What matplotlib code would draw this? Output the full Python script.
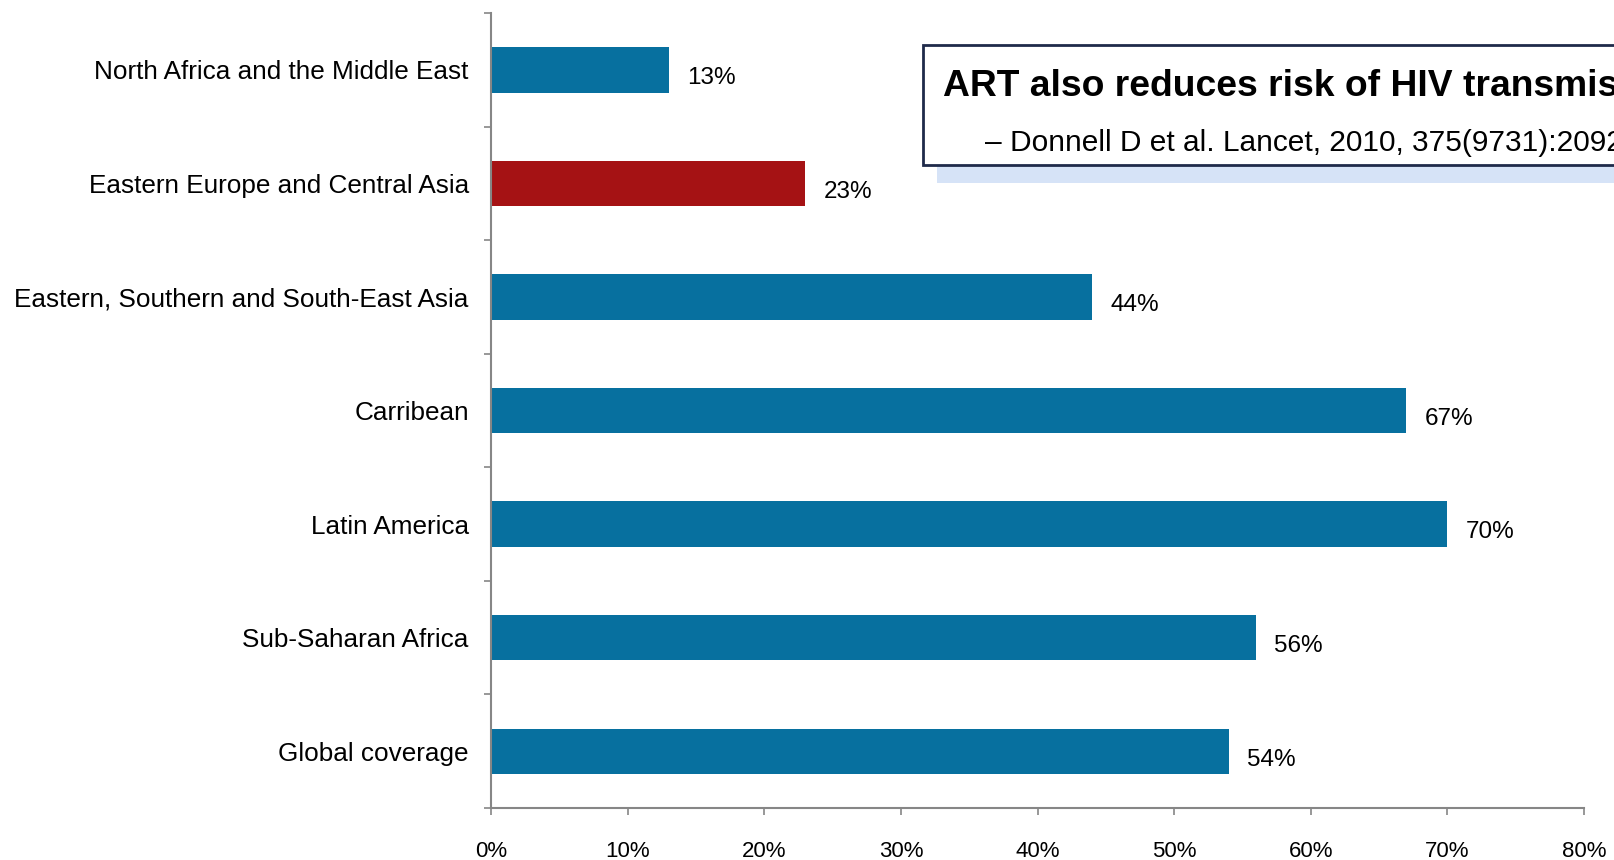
import matplotlib
matplotlib.use("Agg")
import matplotlib.pyplot as plt
from matplotlib.patches import Rectangle
import numpy as np

# data, top to bottom as in the chart
regions = ["North Africa and the Middle East",
           "Eastern Europe and Central Asia",
           "Eastern, Southern and South-East Asia",
           "Carribean",
           "Latin America",
           "Sub-Saharan Africa",
           "Global coverage"]
coverage = [13, 23, 44, 67, 70, 56, 54]
highlight = "Eastern Europe and Central Asia"
x_ticks = [0, 10, 20, 30, 40, 50, 60, 70, 80]

blue = "#07709F"
red = "#A51214"
grey = "#868686"
arial = ["Liberation Sans", "DejaVu Sans"]

W, H = 1614, 860
fig = plt.figure(figsize=(W / 100, H / 100), dpi=100)
ax = fig.add_axes([491 / W, 1 - 808 / H, (1584 - 491) / W, (808 - 13) / H])

y = np.arange(len(regions))
colors = [red if r == highlight else blue for r in regions]
ax.barh(y, coverage, height=0.4, color=colors)

ax.set_ylim(len(regions) - 0.5, -0.5)
ax.set_xlim(0, 80)

# labels on the bars
for yi, v in zip(y, coverage):
    ax.annotate(f"{v}%", xy=(v, yi), xytext=(13, -6), textcoords="offset points",
                va="center", ha="left", fontsize=17.5, family=arial)

# y axis: labels at the centres, ticks at the boundaries
ax.set_yticks(y)
ax.set_yticklabels(regions, family=arial, fontsize=18.8)
ax.tick_params(axis="y", which="major", length=0, pad=16)
ax.set_yticks(np.arange(-0.5, len(regions)), minor=True)
ax.tick_params(axis="y", which="minor", length=5, color=grey, width=1.2)

ax.set_xticks(x_ticks)
ax.set_xticklabels([f"{t}%" for t in x_ticks], family=arial, fontsize=16)
ax.tick_params(axis="x", length=5, color=grey, width=1.2, pad=19)

for s in ["top", "right"]:
    ax.spines[s].set_visible(False)
for s in ["left", "bottom"]:
    ax.spines[s].set_color(grey)
    ax.spines[s].set_linewidth(1.5)

# callout box (pixel coords, runs off the right edge like the original slide)
px = lambda x0, y0: (x0 / W, 1 - y0 / H)
fig.patches.append(Rectangle(px(937, 183), 800 / W, 18 / H, transform=fig.transFigure,
                             facecolor="#D6E3F7", edgecolor="none", zorder=1))
fig.patches.append(Rectangle(px(923, 165), 800 / W, 120 / H, transform=fig.transFigure,
                             facecolor="white", edgecolor="#1F2A4A", linewidth=2, zorder=2))
fig.text(*px(943, 86), "ART also reduces risk of HIV transmission", fontsize=26.8,
         fontweight="bold", family=arial, va="center", ha="left", zorder=3)
fig.text(*px(985, 143), "\u2013 Donnell D et al. Lancet, 2010, 375(9731):2092-8",
         fontsize=21.5, family=arial, va="center", ha="left", zorder=3)

fig.savefig("out.png", dpi=100)
